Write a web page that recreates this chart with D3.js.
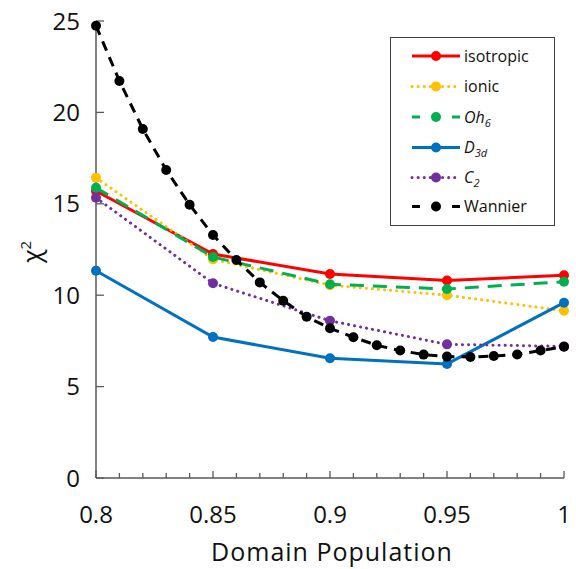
<!DOCTYPE html>
<html>
<head>
<meta charset="utf-8">
<script src="https://cdn.jsdelivr.net/npm/d3@7"></script>
<style>
  body { margin: 0; background: #fff; }
  text { font-family: "Open Sans", "Noto Sans", sans-serif; fill: #111; }
</style>
</head>
<body>
<div id="chart"></div>
<script>
// x values for the model series
const pop = [0.8, 0.85, 0.9, 0.95, 1.0];
const isotropic = [15.7, 12.25, 11.16, 10.8, 11.09];
const ionic = [16.43, 11.96, 10.55, 10.0, 9.15];
const oh6 = [15.88, 12.09, 10.6, 10.34, 10.74];
const d3d = [11.34, 7.71, 6.55, 6.24, 9.59];
const c2 = [15.33, 10.65, 8.6, 7.31, 7.2];

// Wannier is sampled every 0.01
const wannPop = [0.8, 0.81, 0.82, 0.83, 0.84, 0.85, 0.86, 0.87, 0.88, 0.89, 0.9,
  0.91, 0.92, 0.93, 0.94, 0.95, 0.96, 0.97, 0.98, 0.99, 1.0];
const wannier = [24.74, 21.72, 19.09, 16.85, 14.95, 13.29, 11.93, 10.7, 9.7, 8.82, 8.19,
  7.7, 7.26, 6.97, 6.75, 6.64, 6.62, 6.67, 6.76, 6.97, 7.18];

const xTicks = [0.8, 0.85, 0.9, 0.95, 1];
const yTicks = [0, 5, 10, 15, 20, 25];

const W = 576, H = 569;
const margin = { top: 21, right: 12, bottom: 91, left: 96 };

const svg = d3.select("#chart").append("svg")
  .attr("width", W).attr("height", H);

const x = d3.scaleLinear().domain([0.8, 1]).range([margin.left, 564]);
const y = d3.scaleLinear().domain([0, 25]).range([478, margin.top]);

const axisColor = "#595959";

// x axis with ticks pointing into the plot
const xAxis = svg.append("g").attr("transform", `translate(0,${y(0)})`);
xAxis.append("line")
  .attr("x1", x(0.8)).attr("x2", x(1))
  .attr("stroke", axisColor).attr("stroke-width", 1.5);
const minor = d3.range(0, 21).map(i => 0.8 + i * 0.01);
xAxis.selectAll(".mt").data(minor).enter().append("line")
  .attr("x1", d => x(d)).attr("x2", d => x(d))
  .attr("y1", 0).attr("y2", (d, i) => i % 5 === 0 ? -7 : -5)
  .attr("stroke", axisColor).attr("stroke-width", 1.3);
xAxis.selectAll(".xl").data(xTicks).enter().append("text")
  .attr("x", d => x(d)).attr("y", 45)
  .attr("text-anchor", "middle")
  .style("font-size", "24px")
  .text(d => d);

// y axis
const yAxis = svg.append("g").attr("transform", `translate(${x(0.8)},0)`);
yAxis.append("line")
  .attr("y1", y(0)).attr("y2", y(25))
  .attr("stroke", axisColor).attr("stroke-width", 1.5);
yAxis.selectAll(".yt").data(yTicks).enter().append("line")
  .attr("x1", 0).attr("x2", 8)
  .attr("y1", d => y(d)).attr("y2", d => y(d))
  .attr("stroke", axisColor).attr("stroke-width", 1.3);
yAxis.selectAll(".yl").data(yTicks).enter().append("text")
  .attr("x", -16).attr("y", d => y(d))
  .attr("dy", "0.36em")
  .attr("text-anchor", "end")
  .style("font-size", "24px")
  .text(d => d);

// axis titles
svg.append("text")
  .attr("x", 332).attr("y", 561)
  .attr("text-anchor", "middle")
  .style("font-size", "25px")
  .style("letter-spacing", "1px")
  .text("Domain Population");

const yt = svg.append("text")
  .attr("transform", "translate(41,252) rotate(-90)")
  .attr("text-anchor", "middle")
  .style("font-size", "25px");
yt.append("tspan").text("χ");
yt.append("tspan").attr("dy", -10).style("font-size", "15px").text("2");

// series
const series = [
  { name: "isotropic", xs: pop, ys: isotropic, color: "#FF0000", dash: null, cap: "butt" },
  { name: "ionic", xs: pop, ys: ionic, color: "#FFC000", dash: "0.1 6", cap: "round" },
  { name: "oh6", xs: pop, ys: oh6, color: "#00B050", dash: "14 9", cap: "butt" },
  { name: "d3d", xs: pop, ys: d3d, color: "#0070C0", dash: null, cap: "butt" },
  { name: "c2", xs: pop, ys: c2, color: "#7030A0", dash: "0.1 6", cap: "round" },
  { name: "wannier", xs: wannPop, ys: wannier, color: "#000000", dash: "10 7", cap: "butt" }
];

const line = d3.line().x(d => x(d[0])).y(d => y(d[1]));

series.forEach(s => {
  const pts = s.xs.map((v, i) => [v, s.ys[i]]);
  svg.append("path")
    .datum(pts)
    .attr("d", line)
    .attr("fill", "none")
    .attr("stroke", s.color)
    .attr("stroke-width", 3)
    .attr("stroke-linecap", s.cap)
    .attr("stroke-dasharray", s.dash);
  svg.append("g").selectAll("circle").data(pts).enter().append("circle")
    .attr("cx", d => x(d[0])).attr("cy", d => y(d[1]))
    .attr("r", 5)
    .attr("fill", s.color);
});

// legend
const leg = svg.append("g");
leg.append("rect")
  .attr("x", 390.5).attr("y", 37.5).attr("width", 164).attr("height", 188)
  .attr("fill", "#fff").attr("stroke", "#404040").attr("stroke-width", 1);

const legRows = [56, 86.5, 117, 147.5, 177.5, 206.5];
series.forEach((s, i) => {
  const g = leg.append("g").attr("transform", `translate(0,${legRows[i]})`);
  g.append("line")
    .attr("x1", 412).attr("x2", 460)
    .attr("stroke", s.color).attr("stroke-width", 3)
    .attr("stroke-linecap", s.cap)
    .attr("stroke-dasharray", s.name === "oh6" || s.name === "wannier" ? "8 32 8" : s.dash);
  g.append("circle").attr("cx", 436).attr("r", 5).attr("fill", s.color);
  const t = g.append("text").attr("x", 464).attr("dy", "0.35em").style("font-size", "16px");
  if (s.name === "oh6") {
    t.append("tspan").style("font-style", "italic").text("Oh");
    t.append("tspan").style("font-style", "italic").style("font-size", "11px").attr("dy", 4).text("6");
  } else if (s.name === "d3d") {
    t.append("tspan").style("font-style", "italic").text("D");
    t.append("tspan").style("font-style", "italic").style("font-size", "11px").attr("dy", 4).text("3d");
  } else if (s.name === "c2") {
    t.append("tspan").style("font-style", "italic").text("C");
    t.append("tspan").style("font-style", "italic").style("font-size", "11px").attr("dy", 4).text("2");
  } else {
    t.text(s.name === "wannier" ? "Wannier" : s.name);
  }
});
</script>
</body>
</html>
